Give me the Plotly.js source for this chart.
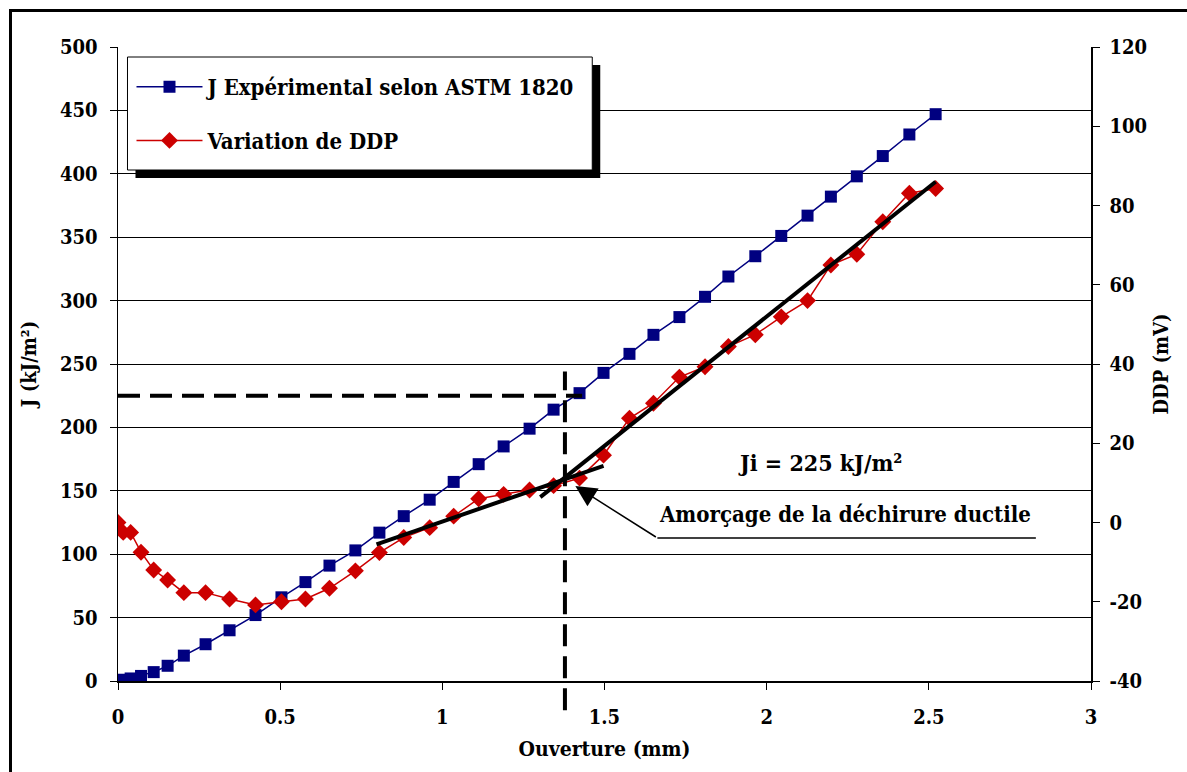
<!DOCTYPE html>
<html><head><meta charset="utf-8">
<script src="https://cdn.plot.ly/plotly-3.0.1.min.js"></script>
<style>
html,body{margin:0;padding:0;background:#fff;overflow:hidden}
#chart{width:1187px;height:772px}
#frame{position:absolute;left:9px;top:9px;width:1200px;height:800px;border:3px solid #000;pointer-events:none}
</style></head><body>
<div id="chart"></div><div id="frame"></div>
<script>
// Ouverture (mm) - shared abscissa
const opening = [0, 0.016, 0.039, 0.071, 0.110, 0.153, 0.203, 0.270, 0.344, 0.424,
  0.504, 0.578, 0.652, 0.732, 0.806, 0.881, 0.961, 1.035, 1.112, 1.189,
  1.269, 1.343, 1.423, 1.497, 1.577, 1.651, 1.731, 1.810, 1.882, 1.965,
  2.045, 2.126, 2.198, 2.278, 2.358, 2.440, 2.521];
// J expérimental (kJ/m²)
const jValues = [0, 1, 2, 4, 7, 12, 20, 29, 40, 52,
  66, 78, 91, 103, 117, 130, 143, 157, 171, 185,
  199, 214, 227, 243, 258, 273, 287, 303, 319, 335,
  351, 367, 382, 398, 414, 431, 447];
// Variation de DDP (mV)
const ddpValues = [0, -2.5, -2.5, -7.5, -12, -14.5, -17.7, -17.7, -19.3, -20.8,
  -20, -19.3, -16.6, -12.2, -7.6, -3.8, -1.3, 1.6, 6, 7.1,
  8.2, 9.3, 11.2, 17, 26.3, 30.1, 36.7, 39.3, 44.4, 47.4,
  51.9, 56, 65, 67.7, 75.9, 83.1, 84.3];
// right-axis tick values (DDP, mV)
const ddpTicks = [-40, -20, 0, 20, 40, 60, 80, 100, 120];
// tangent lines on the DDP curve
const lowTangentX = [0.797, 1.497];
const lowTangentDDP = [-5.5, 14.3];
const highTangentX = [1.302, 2.521];
const highTangentDDP = [6.4, 86.0];
// initiation point
const jInit = 225;
const aInit = 1.378;
const jDashEndX = 1.431;
const jVertTop = 244;
const arrowHead = [1.41, 9.2];
const arrowTail = [1.663, -3.9];
const underlineEndX = 2.83;
const legendNames = ['J Expérimental selon ASTM 1820', 'Variation de DDP'];

const FAM = 'DejaVu Serif Condensed, DejaVu Serif, serif';
const bold = (s) => ({family: FAM, size: s, color: '#000', weight: 'bold'});

const traces = [
  {x: opening, y: jValues, name: legendNames[0], type: 'scatter', mode: 'lines+markers',
   line: {color: '#000080', width: 1.5}, marker: {symbol: 'square', size: 12, color: '#000080'},
   legendgroup: 'a'},
  {x: opening, y: ddpValues, name: legendNames[1], yaxis: 'y2', type: 'scatter', mode: 'lines+markers',
   line: {color: '#CC0000', width: 1.5}, marker: {symbol: 'diamond', size: 13, color: '#CC0000'},
   legendgroup: 'b'},
  {x: lowTangentX, y: lowTangentDDP, yaxis: 'y2', mode: 'lines', line: {color: '#000', width: 4}, showlegend: false, hoverinfo: 'skip'},
  {x: highTangentX, y: highTangentDDP, yaxis: 'y2', mode: 'lines', line: {color: '#000', width: 4}, showlegend: false, hoverinfo: 'skip'},
  {x: [0, jDashEndX], y: [jInit, jInit], mode: 'lines', line: {color: '#000', width: 4, dash: '22px,10px'}, showlegend: false, hoverinfo: 'skip'}
];

const L = 117.5, R = 96, T = 47, B = 91;
const W = 1187, H = 772;
const pw = W - L - R, ph = H - T - B;
const px2x = (p) => (p - L) / pw;
const px2y = (p) => 1 - (p - T) / ph;

// legend frame (white box + drop shadow), in page pixels
const box = {l: 127, t: 57, r: 592, b: 170, sh: 8};

const layout = {
  width: W, height: H,
  margin: {l: L, r: R, t: T, b: B, pad: 0},
  paper_bgcolor: '#fff', plot_bgcolor: '#fff',
  font: bold(20),
  showlegend: true,
  legend: {x: px2x(131), y: px2y(66), xanchor: 'left', yanchor: 'top',
    bgcolor: 'rgba(0,0,0,0)', borderwidth: 0, itemwidth: 66,
    font: bold(22), traceorder: 'grouped', tracegroupgap: 22},
  xaxis: {range: [0, 3], dtick: 0.5, tick0: 0, showgrid: false, zeroline: false,
    showline: true, linecolor: '#000', linewidth: 1.5, ticks: 'outside', ticklen: 7, tickcolor: '#000',
    tickfont: bold(20), ticklabelstandoff: 10,
    title: {text: 'Ouverture (mm)', font: bold(21), standoff: 14}},
  yaxis: {range: [0, 500], dtick: 50, tick0: 0, showgrid: true, gridcolor: '#000', gridwidth: 1,
    zeroline: false, showline: true, linecolor: '#000', linewidth: 1.5,
    ticks: 'outside', ticklen: 7, tickcolor: '#000', tickfont: bold(20), ticklabelstandoff: 8,
    title: {text: 'J (kJ/m²)', font: bold(20), standoff: 18}},
  yaxis2: {range: [-40, 120], tickmode: 'array', tickvals: ddpTicks, ticktext: ddpTicks.map(String),
    overlaying: 'y', side: 'right',
    showgrid: false, zeroline: false, showline: true, linecolor: '#000', linewidth: 1.5,
    ticks: 'outside', ticklen: 7, tickcolor: '#000', tickfont: bold(20), ticklabelstandoff: 6,
    title: {text: 'DDP (mV)', font: bold(20), standoff: 8}},
  shapes: [
    {type: 'line', xref: 'x', yref: 'paper', x0: aInit, x1: aInit, y0: -0.046, y1: jVertTop / 500,
     line: {color: '#000', width: 4, dash: '22px,10px'}},
    {type: 'line', xref: 'x', yref: 'y2', x0: arrowTail[0], x1: underlineEndX, y0: arrowTail[1], y1: arrowTail[1],
     line: {color: '#000', width: 1.5}},
    {type: 'rect', xref: 'paper', yref: 'paper', layer: 'above',
     x0: px2x(box.l + box.sh), x1: px2x(box.r + box.sh), y0: px2y(box.b + box.sh), y1: px2y(box.t + box.sh),
     fillcolor: '#000', line: {width: 0}},
    {type: 'rect', xref: 'paper', yref: 'paper', layer: 'above',
     x0: px2x(box.l), x1: px2x(box.r), y0: px2y(box.b), y1: px2y(box.t),
     fillcolor: '#fff', line: {color: '#000', width: 1}}
  ],
  annotations: [
    {x: 2.165, y: 172.7, xref: 'x', yref: 'y', text: 'Ji = 225 kJ/m²', showarrow: false, font: bold(23)},
    {x: 2.242, y: 132, xref: 'x', yref: 'y', text: 'Amorçage de la déchirure ductile', showarrow: false, font: bold(22)},
    {x: arrowHead[0], y: arrowHead[1], xref: 'x', yref: 'y2', ax: arrowTail[0], ay: arrowTail[1], axref: 'x', ayref: 'y2',
     text: '', showarrow: true, arrowhead: 2, arrowsize: 2.8, arrowwidth: 1.5, arrowcolor: '#000'}
  ]
};

Plotly.newPlot('chart', traces, layout, {displayModeBar: false, staticPlot: true});
</script>
</body></html>
